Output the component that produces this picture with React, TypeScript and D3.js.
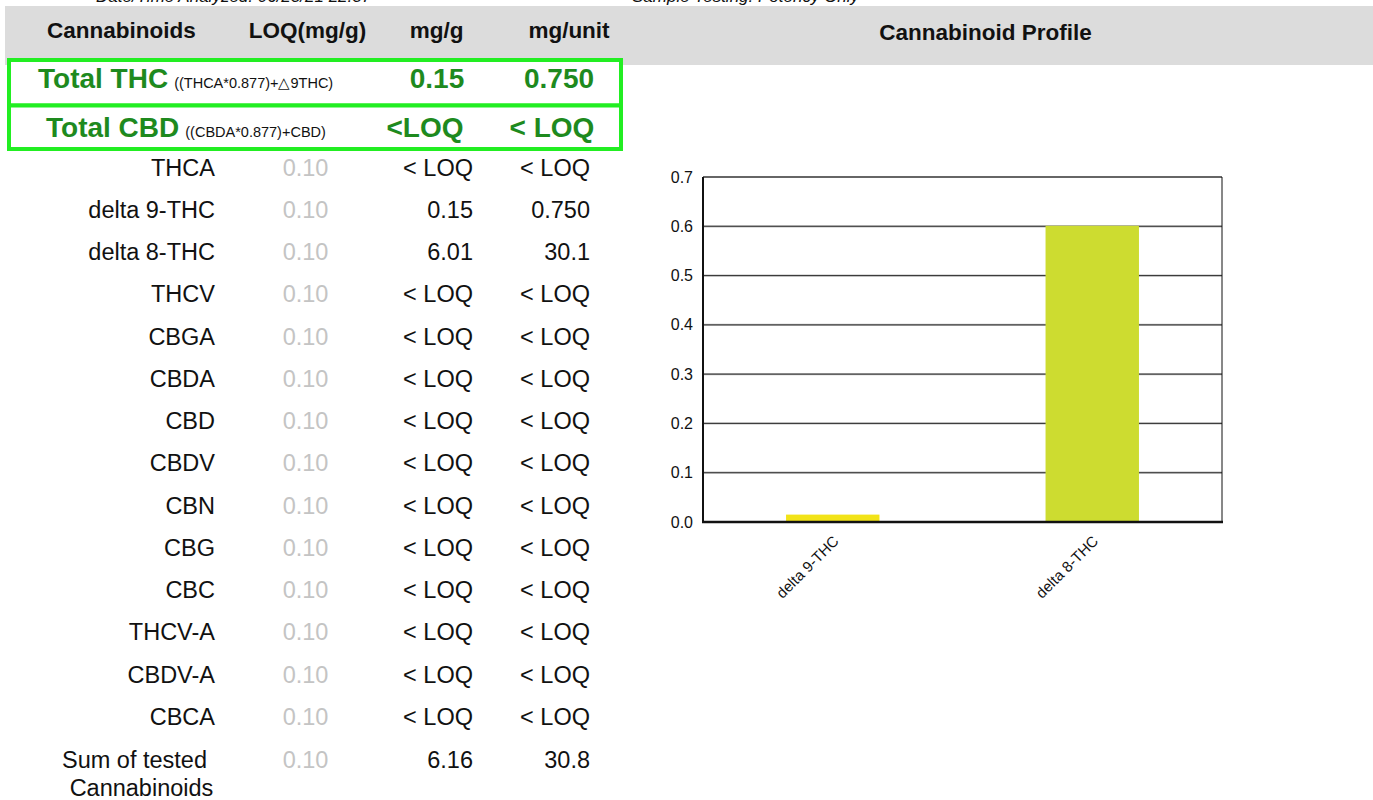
import React from "react";
import * as d3 from "d3";

const headerCols = ["Cannabinoids", "LOQ(mg/g)", "mg/g", "mg/unit"];
const compounds = ["THCA", "delta 9-THC", "delta 8-THC", "THCV", "CBGA", "CBDA", "CBD", "CBDV", "CBN", "CBG", "CBC", "THCV-A", "CBDV-A", "CBCA"];
const loqValues = ["0.10", "0.10", "0.10", "0.10", "0.10", "0.10", "0.10", "0.10", "0.10", "0.10", "0.10", "0.10", "0.10", "0.10"];
const mgPerG = ["< LOQ", "0.15", "6.01", "< LOQ", "< LOQ", "< LOQ", "< LOQ", "< LOQ", "< LOQ", "< LOQ", "< LOQ", "< LOQ", "< LOQ", "< LOQ"];
const mgPerUnit = ["< LOQ", "0.750", "30.1", "< LOQ", "< LOQ", "< LOQ", "< LOQ", "< LOQ", "< LOQ", "< LOQ", "< LOQ", "< LOQ", "< LOQ", "< LOQ"];
const sumRow = { loq: "0.10", mgg: "6.16", mgu: "30.8" };
const totals = [
  { label: "Total THC", formula: "((THCA*0.877)+\u25B39THC)", mgg: "0.15", mgu: "0.750" },
  { label: "Total CBD", formula: "((CBDA*0.877)+CBD)", mgg: "<LOQ", mgu: "< LOQ" },
];

const chartCategories = ["delta 9-THC", "delta 8-THC"];
const chartValues = [0.015, 0.601];
const chartColors = ["#f2e318", "#cddc30"];
const yTicks = [0, 0.1, 0.2, 0.3, 0.4, 0.5, 0.6, 0.7];

const FONT = "'Liberation Sans', Arial, sans-serif";

export default function App() {
  const W = 1373, H = 800;
  const left = 703, right = 1222, top = 177, bottom = 522;
  const x = d3.scaleBand<string>().domain(chartCategories).range([left, right]).paddingInner(0.64).paddingOuter(0.32);
  const y = d3.scaleLinear().domain([0, 0.7]).range([bottom, top]);
  const fmt = d3.format(".1f");

  const rowY = (i: number) => 167 + i * 42.25;
  const green = "#1e8a1e";
  const rowFs = 23.5;

  return (
    <svg width={W} height={H} style={{ position: "absolute", left: 0, top: 0, fontFamily: FONT }}>
      <rect x={0} y={0} width={W} height={H} fill="#fff" />
      {/* clipped top line */}
      <text x={96} y={2} fontSize={17} fontStyle="italic" fill="#111">Date/Time Analyzed: 06/23/21 22:37</text>
      <text x={632} y={2} fontSize={17} fontStyle="italic" fill="#111">Sample Testing: Potency Only</text>
      {/* header band */}
      <rect x={5} y={6} width={W - 5} height={59} fill="#dcdcdc" />
      {headerCols.map((h, i) => (
        <text key={h} x={[121.5, 307.5, 436.5, 569][i]} y={37.5} fontSize={22.5} fontWeight="bold" textAnchor="middle" fill="#111">{h}</text>
      ))}
      <text x={985.5} y={39.5} fontSize={22.5} fontWeight="bold" textAnchor="middle" fill="#111">Cannabinoid Profile</text>

      {/* totals boxes */}
      {totals.map((t, i) => {
        const by = 60 + i * 45.5;
        const base = 88 + i * 48.5;
        return (
          <g key={t.label}>
            <rect x={9} y={by} width={612} height={i === 0 ? 45.5 : 43.5} fill="#fff" stroke="#22ee22" strokeWidth={4} />
            <text x={i === 0 ? 38 : 46} y={base} fill={green} fontWeight="bold" fontSize={28}>
              {t.label}
              <tspan fontSize={14.5} fontWeight="normal" fill="#111" dx={6}>{t.formula}</tspan>
            </text>
            <text x={i === 0 ? 437 : 425} y={base} fill={green} fontWeight="bold" fontSize={28} textAnchor="middle">{t.mgg}</text>
            <text x={i === 0 ? 559 : 552} y={base} fill={green} fontWeight="bold" fontSize={28} textAnchor="middle">{t.mgu}</text>
          </g>
        );
      })}

      {/* compound rows */}
      {compounds.map((c, i) => (
        <g key={c} fontSize={rowFs}>
          <text x={215} y={rowY(i) + 8.5} textAnchor="end" fill="#111">{c}</text>
          <text x={305.5} y={rowY(i) + 8.5} textAnchor="middle" fill="#c4c4c4">{loqValues[i]}</text>
          <text x={473} y={rowY(i) + 8.5} textAnchor="end" fill="#111">{mgPerG[i]}</text>
          <text x={590} y={rowY(i) + 8.5} textAnchor="end" fill="#111">{mgPerUnit[i]}</text>
        </g>
      ))}
      <g fontSize={rowFs}>
        <text x={134.5} y={767.5} textAnchor="middle" fill="#111">Sum of tested</text>
        <text x={141.5} y={796} textAnchor="middle" fill="#111">Cannabinoids</text>
        <text x={305.5} y={767.5} textAnchor="middle" fill="#c4c4c4">{sumRow.loq}</text>
        <text x={473} y={767.5} textAnchor="end" fill="#111">{sumRow.mgg}</text>
        <text x={590} y={767.5} textAnchor="end" fill="#111">{sumRow.mgu}</text>
      </g>

      {/* chart */}
      {yTicks.map((t) => (
        <g key={t}>
          {t > 0 && t < 0.7 && (
            <>
              <line x1={left} x2={right} y1={y(t)} y2={y(t)} stroke="#bbb" strokeWidth={2.2} />
              <line x1={left} x2={right} y1={y(t)} y2={y(t)} stroke="#333" strokeWidth={1} />
            </>
          )}
          <text x={693} y={y(t) + 5.5} fontSize={16} textAnchor="end" fill="#111">{fmt(t)}</text>
        </g>
      ))}
      <line x1={left} x2={right} y1={top} y2={top} stroke="#333" strokeWidth={1.5} />
      <line x1={right} x2={right} y1={top} y2={bottom} stroke="#111" strokeWidth={1} />
      {chartCategories.map((c, i) => (
        <rect key={c} x={x(c)} y={y(chartValues[i])} width={x.bandwidth()} height={bottom - y(chartValues[i])} fill={chartColors[i]} />
      ))}
      <line x1={left} x2={left} y1={top} y2={bottom + 1} stroke="#111" strokeWidth={2} />
      <line x1={left - 1} x2={right + 1} y1={bottom} y2={bottom} stroke="#111" strokeWidth={2.5} />
      {chartCategories.map((c) => {
        const cx = (x(c) as number) + x.bandwidth() / 2 + 7;
        return (
          <text key={c} transform={`translate(${cx},${542}) rotate(-45)`} fontSize={15} textAnchor="end" fill="#111">{c}</text>
        );
      })}
    </svg>
  );
}
